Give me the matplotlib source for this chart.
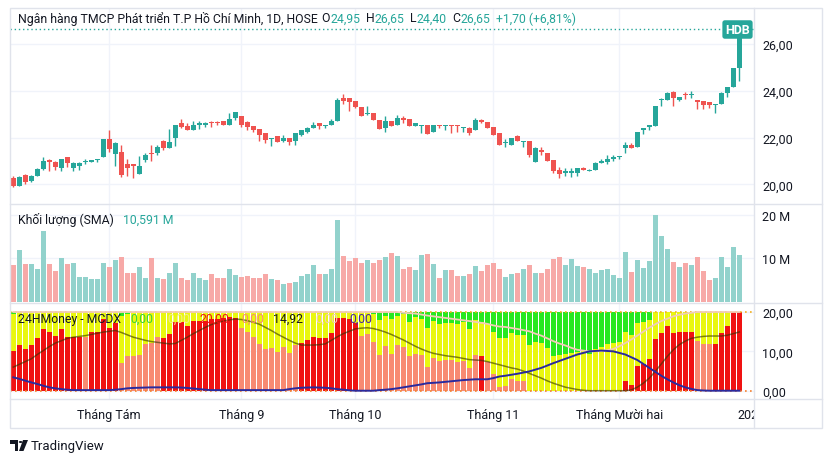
import numpy as np
import matplotlib.pyplot as plt
from matplotlib.patches import Polygon, Circle, Rectangle
from matplotlib.lines import Line2D

plt.rcParams['font.family'] = ['Roboto', 'DejaVu Sans']

W, H = 832, 464

# ---- giá (OHLC) theo phiên ----
opens = [20.25, 19.95, 20.40, 20.15, 20.35, 20.65, 21.05, 20.95, 20.70, 21.15,
         20.70, 20.80, 20.95, 20.95, 21.05, 21.15, 21.95, 21.30, 21.40, 20.85,
         20.85, 20.45, 21.05, 21.35, 21.35, 21.85, 21.55, 22.00, 22.60, 22.50,
         22.30, 22.55, 22.55, 22.65, 22.65, 22.70, 22.55, 22.85, 22.90, 22.65,
         22.50, 22.35, 22.20, 21.95, 22.05, 21.85, 22.00, 21.85, 22.10, 22.25,
         22.40, 22.60, 22.50, 22.55, 22.70, 23.70, 23.70, 23.55, 23.30, 23.00,
         23.05, 22.75, 22.40, 22.70, 22.55, 22.85, 22.80, 22.50, 22.50, 22.55,
         22.25, 22.55, 22.50, 22.55, 22.55, 22.40, 22.40, 22.30, 22.75, 22.65,
         22.45, 22.20, 21.75, 21.70, 22.05, 21.80, 21.85, 20.95, 21.45, 21.35,
         21.05, 20.60, 20.50, 20.50, 20.50, 20.70, 20.55, 20.60, 20.90, 20.95,
         21.10, 21.15, 21.55, 21.70, 21.60, 22.30, 22.45, 22.50, 23.60, 23.60,
         23.95, 23.60, 23.85, 23.80, 23.60, 23.55, 23.50, 23.40, 23.45, 23.90,
         24.15, 24.95]
highs = [20.35, 20.35, 20.45, 20.40, 20.70, 21.15, 21.10, 21.00, 21.10, 21.15,
         20.95, 20.95, 21.10, 21.05, 21.10, 21.95, 22.30, 21.80, 21.70, 21.10,
         20.85, 21.20, 21.35, 21.70, 21.70, 21.90, 22.35, 22.55, 22.80, 22.60,
         22.70, 22.70, 22.65, 22.70, 22.70, 22.70, 23.05, 23.10, 22.90, 22.70,
         22.50, 22.35, 22.20, 22.00, 22.05, 22.10, 22.00, 22.20, 22.30, 22.45,
         22.65, 22.60, 22.55, 22.80, 23.70, 23.85, 23.70, 23.55, 23.30, 23.35,
         23.05, 22.75, 22.90, 22.70, 22.95, 22.90, 22.80, 22.60, 22.55, 22.55,
         22.55, 22.55, 22.55, 22.55, 22.55, 22.45, 22.45, 22.85, 22.80, 22.65,
         22.45, 22.20, 21.95, 22.00, 22.10, 21.85, 21.85, 21.60, 21.60, 21.35,
         21.05, 20.75, 20.70, 20.70, 20.70, 20.75, 20.65, 20.95, 21.10, 21.25,
         21.25, 21.20, 21.80, 21.75, 22.25, 22.40, 22.55, 23.35, 23.70, 23.95,
         24.00, 23.75, 23.95, 24.00, 23.60, 23.55, 23.50, 23.45, 23.95, 24.15,
         24.95, 26.65]
lows = [19.90, 19.95, 20.00, 20.10, 20.35, 20.60, 20.55, 20.60, 20.55, 20.75,
        20.55, 20.60, 20.85, 20.95, 20.95, 21.15, 21.40, 20.80, 20.30, 20.35,
        20.25, 20.45, 20.95, 21.00, 21.25, 21.45, 21.55, 21.65, 22.40, 22.30,
        22.30, 22.35, 22.45, 22.45, 22.55, 22.55, 22.55, 22.75, 22.45, 22.30,
        22.25, 21.85, 21.75, 21.65, 21.80, 21.80, 21.70, 21.70, 22.05, 22.20,
        22.40, 22.35, 22.40, 22.55, 22.70, 23.45, 23.15, 23.25, 22.90, 22.95,
        22.75, 22.35, 22.25, 22.50, 22.55, 22.60, 22.50, 22.50, 22.20, 22.15,
        22.25, 22.40, 22.30, 22.20, 22.25, 22.25, 22.10, 22.30, 22.60, 22.40,
        22.10, 21.70, 21.60, 21.70, 21.85, 21.60, 21.15, 20.95, 21.25, 21.00,
        20.50, 20.25, 20.35, 20.30, 20.35, 20.60, 20.55, 20.60, 20.90, 20.85,
        21.00, 21.10, 21.35, 21.55, 21.60, 22.15, 22.30, 22.50, 23.35, 23.60,
        23.35, 23.55, 23.65, 23.70, 23.20, 23.20, 23.25, 23.05, 23.45, 23.75,
        24.15, 24.40]
closes = [19.95, 20.30, 20.10, 20.35, 20.65, 21.00, 20.95, 20.75, 21.10, 20.90,
          20.90, 20.90, 21.00, 21.05, 21.10, 21.95, 21.50, 21.75, 20.40, 20.70,
          20.80, 20.80, 21.25, 21.30, 21.60, 21.55, 21.80, 22.55, 22.45, 22.30,
          22.55, 22.60, 22.60, 22.60, 22.60, 22.55, 22.80, 23.10, 22.55, 22.45,
          22.30, 22.10, 21.90, 22.00, 21.80, 22.00, 21.80, 22.20, 22.30, 22.40,
          22.55, 22.50, 22.55, 22.70, 23.60, 23.55, 23.50, 23.30, 22.90, 23.05,
          22.75, 22.35, 22.70, 22.50, 22.85, 22.75, 22.50, 22.60, 22.55, 22.15,
          22.55, 22.50, 22.55, 22.50, 22.50, 22.45, 22.20, 22.75, 22.65, 22.40,
          22.10, 21.70, 21.80, 22.00, 21.85, 21.85, 21.25, 21.55, 21.40, 21.00,
          20.55, 20.45, 20.55, 20.55, 20.70, 20.60, 20.60, 20.90, 21.00, 21.10,
          21.15, 21.20, 21.70, 21.55, 22.25, 22.40, 22.55, 23.35, 23.65, 23.90,
          23.70, 23.75, 23.80, 23.85, 23.50, 23.40, 23.40, 23.45, 23.90, 24.15,
          24.95, 26.65]

# ---- khối lượng (triệu cp) ----
volumes = [8.4, 11.8, 8.6, 8.6, 7.5, 16.3, 8.6, 7.1, 10.0, 8.6,
           8.8, 5.6, 5.6, 5.2, 5.2, 9.0, 8.1, 9.7, 10.2, 6.5,
           6.5, 8.1, 5.4, 10.0, 5.4, 5.2, 6.5, 8.8, 5.4, 4.9,
           6.5, 5.4, 4.9, 6.3, 5.4, 5.4, 7.5, 6.1, 5.6, 5.9,
           5.4, 5.4, 6.3, 5.2, 4.9, 4.0, 4.3, 4.5, 5.9, 6.3,
           8.4, 6.3, 6.3, 7.5, 18.9, 10.6, 9.3, 10.0, 9.0, 9.5,
           8.8, 9.5, 10.2, 11.1, 10.6, 7.5, 7.9, 7.2, 10.8, 11.0,
           8.7, 5.5, 7.3, 7.3, 5.9, 5.9, 6.3, 8.2, 7.1, 8.5,
           8.9, 7.5, 5.7, 6.3, 6.6, 7.5, 8.5, 6.6, 6.6, 7.5,
           9.8, 10.3, 8.5, 9.8, 8.2, 8.0, 7.5, 6.6, 7.3, 7.5,
           6.2, 5.5, 11.5, 6.8, 9.6, 7.8, 9.4, 20.0, 15.2, 12.2,
           9.2, 8.0, 8.9, 8.5, 10.3, 7.1, 5.0, 5.5, 10.3, 8.0,
           12.6, 10.8]

# ---- MCDX: cá mập (đỏ / cam nhạt), nhỏ lẻ (xanh lá) ----
banker = [10.0, 11.7, 10.7, 11.7, 13.5, 15.6, 14.8, 13.8, 15.7, 13.6,
          13.6, 13.6, 13.6, 14.8, 14.8, 18.2, 16.0, 17.3, 7.1, 8.9,
          8.9, 9.1, 11.8, 12.0, 13.7, 13.5, 14.5, 17.5, 17.5, 16.5,
          17.8, 17.8, 17.8, 18.3, 18.2, 18.4, 18.7, 18.4, 16.0, 15.0,
          13.6, 11.9, 10.7, 10.9, 9.9, 11.0, 9.6, 11.7, 12.2, 12.9,
          13.7, 13.5, 13.5, 14.7, 18.6, 18.4, 18.3, 17.3, 14.0, 14.5,
          12.3, 9.1, 11.4, 9.4, 11.6, 11.0, 8.7, 9.4, 9.1, 5.9,
          8.2, 7.6, 7.9, 7.7, 7.3, 7.5, 5.8, 9.2, 8.8, 7.2,
          4.3, 0.9, 1.2, 3.1, 2.4, 2.4, 0.0, 0.0, 0.0, 0.0,
          0.0, 0.0, 0.0, 0.0, 0.0, 0.0, 0.0, 0.0, 0.0, 0.0,
          0.0, 0.0, 2.4, 1.4, 6.2, 6.8, 8.0, 13.2, 14.7, 16.4,
          14.6, 14.8, 15.0, 15.0, 12.6, 11.9, 11.9, 11.9, 14.7, 16.4,
          20.0, 20.0]
# r = cột đỏ đậm, s = cột cam nhạt
banker_kind = ("rrrrrrrrrr" "rrsrrrrrss" "sssssrrrrr" "rrrrrrrrss"
               "ssssssssrr" "rrrrrrrrss" "ssssssssss" "ssssssssrs"
               "ssssssssss" "ssssssssss" "ssrrrrrrrr" "rrrrsssrrr"
               "rr")
retail = [0.6, 0.0, 0.0, 0.0, 0.0, 0.0, 0.0, 0.0, 0.0, 0.0,
          0.0, 0.0, 0.0, 0.0, 0.0, 0.0, 0.0, 0.0, 1.0, 0.6,
          0.0, 0.0, 0.0, 0.0, 0.0, 0.0, 0.0, 0.0, 0.0, 0.0,
          0.0, 0.0, 0.0, 0.0, 0.0, 0.0, 0.0, 0.0, 0.0, 0.0,
          0.0, 0.0, 0.0, 0.0, 0.0, 0.0, 0.0, 0.0, 0.0, 0.0,
          0.0, 0.0, 0.0, 0.0, 0.0, 0.0, 0.0, 0.0, 0.0, 0.0,
          0.5, 2.1, 1.1, 1.8, 0.9, 0.4, 2.6, 1.3, 1.9, 4.0,
          2.3, 3.0, 2.7, 2.8, 3.0, 2.6, 4.2, 2.0, 2.6, 3.0,
          5.0, 6.6, 6.5, 5.4, 5.8, 5.8, 8.4, 7.5, 7.9, 9.1,
          11.1, 10.9, 10.7, 10.5, 10.2, 10.0, 10.7, 9.4, 8.9, 8.2,
          8.0, 7.6, 5.2, 5.8, 2.8, 2.6, 2.1, 0.0, 0.0, 0.0,
          0.0, 0.0, 0.0, 0.0, 0.0, 0.0, 0.0, 0.0, 0.0, 0.0,
          0.0, 0.0]
line_olive = [6.0, 6.7, 7.4, 8.1, 9.2, 10.2, 11.2, 12.1, 12.7, 13.3,
              13.6, 13.8, 14.0, 14.3, 14.6, 14.9, 15.1, 15.3, 14.8, 14.2,
              13.6, 13.2, 12.8, 12.5, 12.3, 12.1, 11.9, 12.0, 12.8, 13.6,
              14.5, 15.3, 16.1, 16.8, 17.3, 17.7, 18.0, 18.2, 18.1, 17.8,
              17.4, 16.9, 16.1, 15.3, 14.4, 13.6, 12.8, 12.1, 11.6, 11.6,
              11.6, 11.7, 11.9, 12.8, 13.7, 14.5, 15.1, 15.7, 15.9, 16.0,
              15.8, 15.4, 14.9, 14.3, 13.6, 12.9, 12.1, 11.3, 10.6, 10.0,
              9.5, 9.2, 8.9, 8.7, 8.5, 8.2, 7.9, 7.8, 7.7, 7.4,
              7.0, 6.6, 6.2, 5.8, 5.5, 5.0, 4.4, 3.8, 3.2, 2.5,
              1.9, 1.4, 0.9, 0.6, 0.3, 0.1, 0.0, 0.0, 0.0, 0.0,
              0.0, 0.0, 0.0, 0.2, 0.9, 1.9, 3.2, 4.9, 6.8, 8.7,
              10.4, 11.7, 12.6, 13.3, 13.6, 13.8, 13.9, 13.9, 13.9, 14.1,
              14.5, 14.92]
line_purple = [3.4, 3.0, 2.55, 2.1, 1.7, 1.25, 0.85, 0.6, 0.4, 0.25,
               0.15, 0.15, 0.15, 0.15, 0.15, 0.15, 0.15, 0.25, 0.4, 0.6,
               0.7, 0.75, 0.8, 0.85, 0.85, 0.85, 0.85, 0.85, 0.8, 0.7,
               0.55, 0.4, 0.25, 0.15, 0.15, 0.15, 0.15, 0.15, 0.15, 0.15,
               0.15, 0.15, 0.15, 0.15, 0.15, 0.15, 0.4, 0.6, 0.75, 0.8,
               0.85, 0.8, 0.75, 0.6, 0.4, 0.25, 0.1, 0.0, 0.0, 0.0,
               0.0, 0.15, 0.25, 0.4, 0.6, 0.85, 1.1, 1.35, 1.6, 1.9,
               2.0, 2.1, 2.25, 2.4, 2.55, 2.7, 2.8, 2.9, 2.9, 2.9,
               3.2, 3.6, 3.8, 4.05, 4.3, 4.6, 4.9, 5.35, 5.8, 6.4,
               7.0, 7.55, 8.1, 8.65, 9.2, 9.6, 10.0, 10.1, 10.2, 10.1,
               10.0, 9.6, 9.2, 8.5, 7.8, 6.8, 5.8, 4.8, 3.8, 2.9,
               2.1, 1.4, 0.85, 0.45, 0.15, 0.05, 0.0, 0.0, 0.0, 0.0,
               0.0, 0.0]
line_peach = [20.0, 20.0, 20.0, 20.0, 20.0, 20.0, 20.0, 20.0, 20.0, 20.0,
              20.0, 20.0, 20.0, 20.0, 20.0, 20.0, 20.0, 20.0, 20.0, 20.0,
              20.0, 20.0, 20.0, 20.0, 20.0, 20.0, 20.0, 20.0, 20.0, 20.0,
              20.0, 20.0, 20.0, 20.0, 20.0, 20.0, 20.0, 20.0, 20.0, 20.0,
              20.0, 20.0, 20.0, 20.0, 20.0, 20.0, 20.0, 20.0, 20.0, 20.0,
              20.0, 20.0, 20.0, 20.0, 20.0, 20.0, 20.0, 20.0, 20.0, 20.0,
              20.0, 20.0, 20.0, 20.0, 20.0, 19.8, 19.7, 19.6, 19.35, 19.1,
              18.9, 18.7, 18.5, 18.3, 18.1, 17.9, 17.7, 17.5, 17.25, 17.0,
              16.6, 16.3, 16.2, 15.95, 15.7, 15.4, 15.1, 14.5, 14.0, 13.3,
              12.6, 12.0, 11.5, 10.9, 10.4, 10.2, 10.0, 10.0, 10.1, 10.3,
              10.6, 11.3, 12.1, 13.0, 14.0, 15.0, 16.0, 16.9, 17.7, 18.3,
              18.9, 19.3, 19.6, 19.8, 20.0, 20.0, 20.0, 20.0, 20.0, 20.0,
              20.0, 20.0]

# nhãn trục thời gian (chỉ số phiên đầu tháng)
month_idx = [16, 38, 57, 80, 101, 123]
month_labels = ['Tháng Tám', 'Tháng 9', 'Tháng 10', 'Tháng 11', 'Tháng Mười hai', '2025']

UP, DN = '#26a69a', '#ef5350'
TXT = '#131722'
GRID = '#f0f3fa'
BORDER = '#e0e3eb'

o, h, l, c = map(np.array, (opens, highs, lows, closes))
x = np.arange(len(o))
is_up = c >= o

fig = plt.figure(figsize=(W / 100, H / 100), dpi=100)
fig.patch.set_facecolor('white')
renderer = fig.canvas.get_renderer()


def fax(left, top, right, bottom):
    return fig.add_axes([left / W, 1 - bottom / H, (right - left) / W, (bottom - top) / H])


def ftext(px, py, s, **kw):
    kw.setdefault('va', 'center')
    kw.setdefault('fontsize', 8.8)
    kw.setdefault('color', TXT)
    return fig.text(px / W, 1 - py / H, s, **kw)


def chain(px, py, parts):
    # đặt lần lượt từng đoạn chữ, mỗi đoạn nối tiếp đoạn trước
    for gap, s, col in parts:
        px += gap
        t = ftext(px, py, s, color=col)
        px = t.get_window_extent(renderer).x1


ax_p = fax(10, 9.5, 754, 205)
ax_v = fax(10, 205, 754, 304)
ax_m = fax(10, 304, 754, 400)
ax_t = fax(10, 400, 754, 429)

for ax in (ax_p, ax_v, ax_m, ax_t):
    ax.set_xlim(-0.55, 123.45)
    for s in ax.spines.values():
        s.set_visible(False)
    ax.set_xticks(month_idx[:-1])
    ax.tick_params(axis='x', length=0, labelbottom=False)
    ax.grid(axis='x', color=GRID, lw=1)
    ax.set_axisbelow(True)
    ax.yaxis.tick_right()
    ax.tick_params(axis='y', length=0, pad=5.8, labelsize=9, labelcolor=TXT)
ax_t.set_yticks([])
ax_t.grid(False)

# --- giá ---
ax_p.set_ylim(19.16, 27.51)
ax_p.set_yticks([20, 22, 24, 26], ['20,00', '22,00', '24,00', '26,00'])
ax_p.grid(axis='y', color=GRID, lw=1)
cols = np.where(is_up, UP, DN)
ax_p.vlines(x, l, h, colors=cols, lw=1)
ax_p.bar(x, np.maximum(np.abs(c - o), 0.045), bottom=np.minimum(o, c), width=0.78,
         color=cols, lw=0)
ax_p.axhline(c[-1], color=UP, lw=1, ls=(0, (1, 2)), zorder=1)

# --- khối lượng ---
ax_v.set_ylim(-0.3, 22.5)
ax_v.set_yticks([10, 20], ['10 M', '20 M'])
ax_v.grid(axis='y', color=GRID, lw=1)
ax_v.bar(x, volumes, width=0.8, color=np.where(is_up, '#92d2cc', '#f7a9a7'), lw=0)

# --- MCDX ---
ax_m.set_ylim(-2.11, 22.29)
ax_m.set_yticks([0, 10, 20], ['0,00', '10,00', '20,00'])
ax_m.grid(axis='y', color=GRID, lw=1)
retail_a = np.array(retail)
ax_m.bar(x, 20, width=0.88, color='#e9f70f', lw=0)
ax_m.bar(x, banker, width=0.88, lw=0,
         color=['#f01212' if k == 'r' else '#f88a72' for k in banker_kind])
ax_m.bar(x, retail_a, bottom=20 - retail_a, width=0.88, color='#27e820', lw=0)
ax_m.axhline(20, color='#f2b01e', lw=1.2, ls=(0, (1, 2)))
ax_m.axhline(0, color='#f5802c', lw=1.2, ls=(0, (1, 2)))
ax_m.plot(x, line_peach, color='#f1cdb6', lw=1.3)
ax_m.plot(x, line_olive, color='#333300', alpha=0.6, lw=1.1)
ax_m.plot(x, line_purple, color='#2a2a9e', lw=1.4)

# --- trục thời gian ---
ax_t.set_ylim(0, 1)
for xi, lab in zip(month_idx, month_labels):
    ax_t.text(xi, 0.48, lab, ha='center', va='center', fontsize=9, color=TXT, clip_on=True)

# --- khung, đường phân cách ---
fig.add_artist(Rectangle((10 / W, 1 - 429 / H), 812 / W, 420 / H, transform=fig.transFigure,
                         fill=False, ec=BORDER, lw=1))
for y in (205, 304, 400):
    fig.add_artist(Line2D([10 / W, 822 / W], [1 - y / H, 1 - y / H], color=BORDER, lw=1))
fig.add_artist(Line2D([754 / W, 754 / W], [1 - 9 / H, 1 - 429 / H], color=BORDER, lw=1))

# --- chú thích ---
chain(18, 19, [(0, 'Ngân hàng TMCP Phát triển T.P Hồ Chí Minh, 1D, HOSE', TXT),
               (4, 'O', TXT), (0.5, '24,95', UP), (5, 'H', TXT), (0.5, '26,65', UP),
               (5, 'L', TXT), (0.5, '24,40', UP), (5, 'C', TXT), (0.5, '26,65', UP),
               (6, '+1,70 (+6,81%)', UP)])

ftext(737.5, 30.5, 'HDB', color='white', fontsize=9, fontweight='bold', ha='center',
      bbox=dict(boxstyle='round,pad=0.22,rounding_size=0.2', fc=UP, ec='none'))

chain(18, 220, [(0, 'Khối lượng (SMA)', TXT), (9, '10,591 M', UP)])

chain(18, 319, [(0, '24HMoney - MCDX', TXT), (9, '0,00', '#3ad43a'), (14, '0,00', '#f3ee86'),
                (9, '20,00', '#f01212'), (12, '0,00', '#f88a72'), (9, '14,92', '#1a1a1a'),
                (12, '0,00', '#f1cdb6'), (11, '0,00', '#4a2a9a')])


# --- logo ---
def pxy(px, py):
    return (px / W, 1 - py / H)


fig.add_artist(Polygon([pxy(10, 441), pxy(18, 441), pxy(18, 452), pxy(14.5, 452),
                        pxy(14.5, 444.5), pxy(10, 444.5)], closed=True,
                       transform=fig.transFigure, fc=TXT, ec='none'))
fig.add_artist(Polygon([pxy(23, 441), pxy(28, 441), pxy(23.5, 452), pxy(19, 452)], closed=True,
                       transform=fig.transFigure, fc=TXT, ec='none'))
fig.add_artist(Circle(pxy(20.6, 443), 1.8 / W, transform=fig.transFigure, fc=TXT, ec='none'))
ftext(31, 446.5, 'TradingView', fontsize=9.5)

fig.savefig('out.png', dpi=100)
